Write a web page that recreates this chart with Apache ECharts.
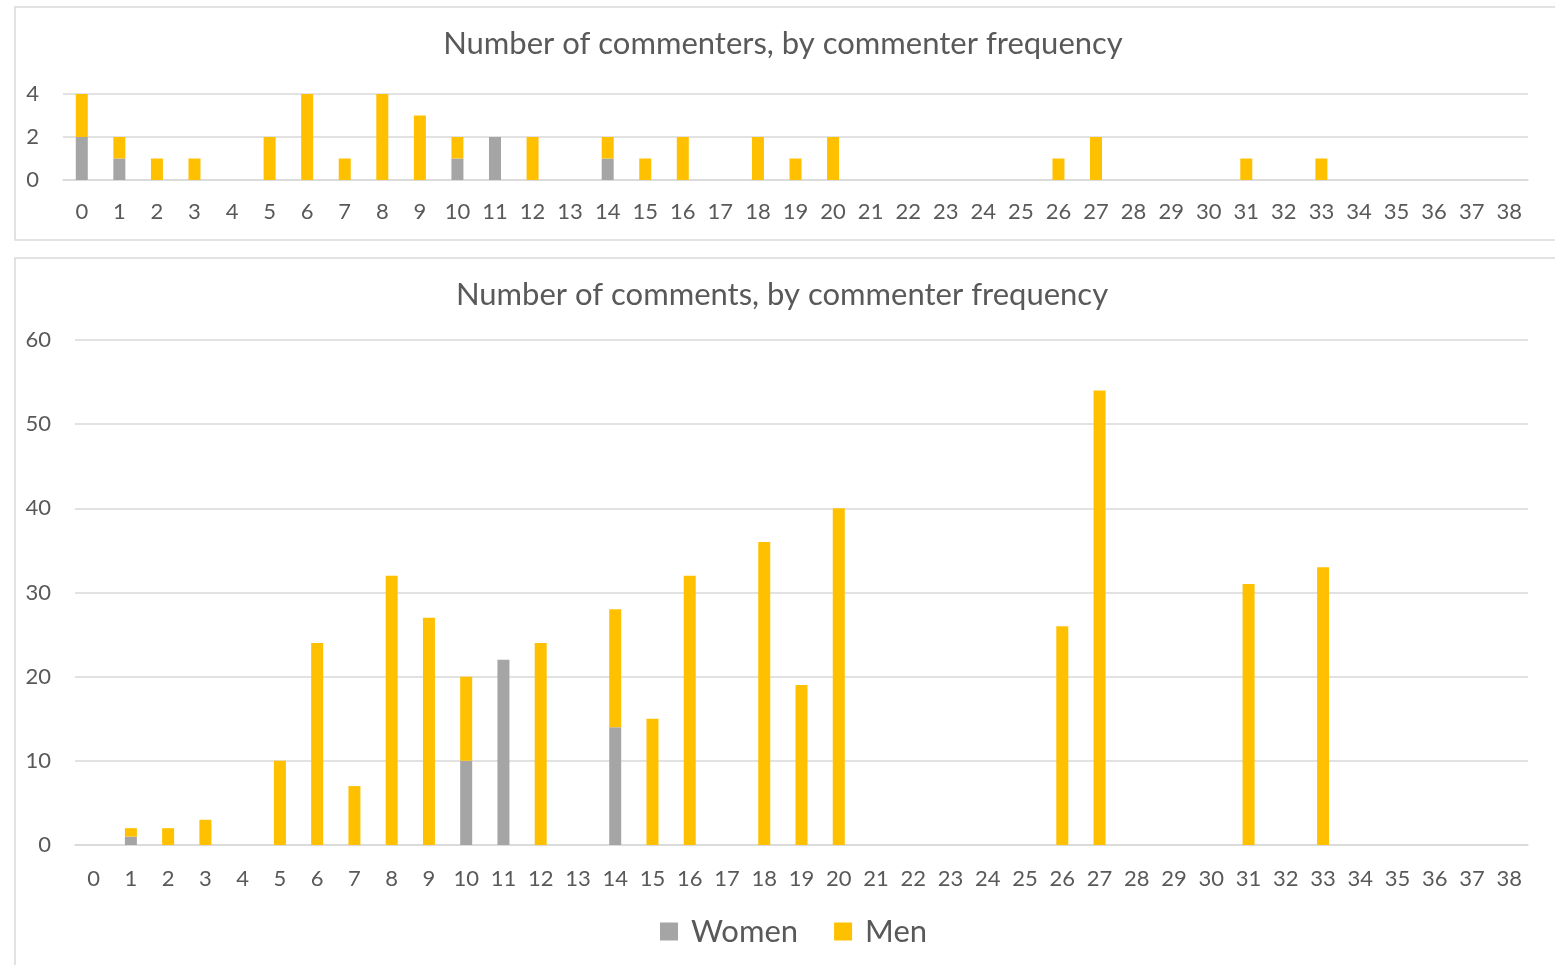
<!DOCTYPE html>
<html>
<head>
<meta charset="utf-8">
<script src="https://cdn.jsdelivr.net/npm/echarts@6/dist/echarts.min.js"></script>
<style>
  html, body { margin: 0; padding: 0; background: #fff; }
  #chart { width: 1555px; height: 965px; }
</style>
</head>
<body>
<div id="chart"></div>
<script>
// commenter frequency buckets 0..38
var categories = [];
for (var i = 0; i <= 38; i++) categories.push(String(i));

var commentersWomen = [2,1,0,0,0,0,0,0,0,0,1,2,0,0,1,0,0,0,0,0,0,0,0,0,0,0,0,0,0,0,0,0,0,0,0,0,0,0,0];
var commentersMen   = [2,1,1,1,0,2,4,1,4,3,1,0,2,0,1,1,2,0,2,1,2,0,0,0,0,0,1,2,0,0,0,1,0,1,0,0,0,0,0];

var commentsWomen = [0,1,0,0,0,0,0,0,0,0,10,22,0,0,14,0,0,0,0,0,0,0,0,0,0,0,0,0,0,0,0,0,0,0,0,0,0,0,0];
var commentsMen   = [0,1,2,3,0,10,24,7,32,27,10,0,24,0,14,15,32,0,36,19,40,0,0,0,0,0,26,54,0,0,0,31,0,33,0,0,0,0,0];

var seriesNames = ['Women', 'Men'];
var colors = ['#A5A5A5', '#FFC000'];

var font = 'Lato, "Open Sans", sans-serif';
var textColor = '#595959';
var lineColor = '#D9D9D9';

var chart = echarts.init(document.getElementById('chart'));

function xAxisFor(gridIndex, margin) {
    return {
        type: 'category', gridIndex: gridIndex, data: categories,
        axisLine: { lineStyle: { color: lineColor, width: 1.5 } },
        axisTick: { show: false },
        axisLabel: { color: textColor, fontFamily: font, fontSize: 22, margin: margin, interval: 0 }
    };
}
function yAxisFor(gridIndex, max, step) {
    return {
        type: 'value', gridIndex: gridIndex, min: 0, max: max, interval: step,
        axisLine: { show: false }, axisTick: { show: false },
        splitLine: { lineStyle: { color: lineColor, width: 1.5 } },
        axisLabel: { color: textColor, fontFamily: font, fontSize: 22, margin: 24, padding: [0, 0, 4, 0] }
    };
}
function bar(name, data, axis, stack, color) {
    return {
        name: name, type: 'bar', stack: stack, data: data,
        xAxisIndex: axis, yAxisIndex: axis,
        barWidth: 12,
        itemStyle: { color: color },
        silent: true
    };
}

chart.setOption({
    animation: false,
    textStyle: { fontFamily: font },
    graphic: [
        { type: 'rect', shape: { x: 15, y: 7, width: 1560, height: 233 },
          style: { fill: 'none', stroke: lineColor, lineWidth: 1.5 } },
        { type: 'rect', shape: { x: 15, y: 258, width: 1560, height: 720 },
          style: { fill: 'none', stroke: lineColor, lineWidth: 1.5 } }
    ],
    title: [
        { text: 'Number of commenters, by commenter frequency', left: 778, top: 23, textAlign: 'center',
          textStyle: { color: textColor, fontFamily: font, fontSize: 31, fontWeight: 'normal' } },
        { text: 'Number of comments, by commenter frequency', left: 777, top: 274, textAlign: 'center',
          textStyle: { color: textColor, fontFamily: font, fontSize: 31, fontWeight: 'normal' } }
    ],
    legend: {
        data: seriesNames, bottom: 13, left: 655,
        itemWidth: 18, itemHeight: 18, itemGap: 36,
        icon: 'rect',
        textStyle: { color: textColor, fontFamily: font, fontSize: 31, padding: [0, 0, 0, 8] }
    },
    grid: [
        { left: 63, right: 27, top: 94, height: 86 },
        { left: 75, right: 27, top: 340, height: 505 }
    ],
    xAxis: [xAxisFor(0, 21), xAxisFor(1, 23)],
    yAxis: [yAxisFor(0, 4, 2), yAxisFor(1, 60, 10)],
    series: [
        bar(seriesNames[0], commentersWomen, 0, 'a', colors[0]),
        bar(seriesNames[1], commentersMen, 0, 'a', colors[1]),
        bar(seriesNames[0], commentsWomen, 1, 'b', colors[0]),
        bar(seriesNames[1], commentsMen, 1, 'b', colors[1])
    ]
});
</script>
</body>
</html>
